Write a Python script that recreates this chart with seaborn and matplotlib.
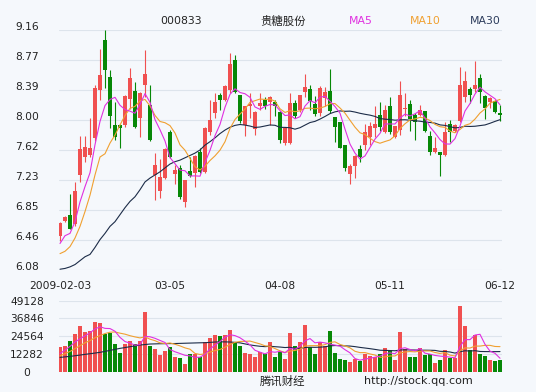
"""Daily candlestick chart for 000833 with MA lines and volume panel."""
import numpy as np
import pandas as pd
import matplotlib
matplotlib.use('Agg')
import matplotlib.pyplot as plt
import seaborn as sns

# price data, one entry per trading day (2009-02-03 .. 2009-06-12)
opens = [6.51, 6.71, 6.79, 6.67, 7.30, 7.53, 7.55, 7.77, 8.39, 9.03,
         8.56, 7.94, 7.94, 7.94, 8.28, 8.38, 8.03, 8.45, 8.20, 7.30,
         7.09, 7.26, 7.85, 7.31, 7.39, 6.95, 7.35, 7.33, 7.59, 7.34,
         7.85, 8.10, 8.32, 8.26, 8.39, 8.78, 8.32, 7.94, 8.18, 7.89,
         8.18, 8.26, 8.23, 8.23, 8.11, 7.71, 7.71, 8.22, 8.13, 8.37,
         8.40, 8.21, 8.10, 8.29, 8.38, 8.04, 7.98, 7.68, 7.31, 7.42,
         7.63, 7.68, 7.79, 7.90, 8.07, 7.85, 8.19, 7.79, 7.88, 8.15,
         8.21, 8.07, 8.07, 8.12, 7.80, 7.59, 7.59, 7.55, 7.95, 7.86,
         7.99, 8.30, 8.40, 8.40, 8.55, 8.31, 8.23, 8.25, 8.10]
closes = [6.68, 6.76, 6.61, 7.09, 7.63, 7.66, 7.65, 8.41, 8.58, 8.65,
          8.05, 7.79, 7.90, 8.31, 8.54, 7.92, 8.35, 8.60, 7.75, 7.43,
          7.27, 7.63, 7.53, 7.36, 7.02, 7.23, 7.29, 7.54, 7.34, 7.90,
          8.01, 8.23, 8.26, 8.44, 8.73, 8.37, 7.99, 8.18, 8.21, 8.11,
          8.22, 8.18, 8.30, 8.18, 7.75, 7.90, 8.22, 8.05, 8.32, 8.43,
          8.25, 8.08, 8.41, 8.37, 8.12, 7.91, 7.65, 7.39, 7.41, 7.54,
          7.53, 7.85, 7.93, 7.95, 7.91, 8.13, 7.85, 7.93, 8.33, 8.16,
          8.02, 7.98, 8.13, 7.86, 7.59, 7.64, 7.55, 7.85, 7.85, 7.94,
          8.45, 8.51, 8.33, 8.46, 8.37, 8.16, 8.29, 8.11, 8.07]
highs = [6.70, 6.77, 7.05, 7.21, 7.80, 7.80, 8.03, 8.45, 8.91, 9.16,
         8.65, 8.24, 7.95, 8.33, 8.67, 8.49, 8.36, 8.90, 8.45, 7.58,
         7.51, 7.65, 7.88, 7.43, 7.43, 7.23, 7.53, 7.55, 7.64, 7.91,
         8.26, 8.35, 8.35, 8.45, 8.86, 8.84, 8.33, 8.18, 8.35, 8.12,
         8.35, 8.30, 8.31, 8.26, 8.12, 7.91, 8.35, 8.26, 8.32, 8.59,
         8.45, 8.31, 8.44, 8.43, 8.66, 8.04, 7.98, 7.69, 7.44, 7.55,
         7.68, 7.96, 7.98, 8.18, 8.24, 8.20, 8.30, 7.93, 8.50, 8.35,
         8.26, 8.09, 8.20, 8.12, 7.86, 7.79, 7.59, 7.98, 8.01, 7.95,
         8.68, 8.63, 8.43, 8.76, 8.60, 8.32, 8.30, 8.26, 8.20]
lows = [6.45, 6.70, 6.60, 6.65, 7.21, 7.47, 7.53, 7.74, 8.26, 8.41,
        7.90, 7.75, 7.65, 7.92, 8.15, 7.90, 7.79, 8.30, 7.74, 6.98,
        7.00, 7.25, 7.52, 7.18, 6.99, 6.89, 7.27, 7.15, 7.33, 7.32,
        7.81, 8.03, 8.13, 8.25, 8.35, 8.35, 7.97, 7.80, 8.03, 7.81,
        8.13, 8.15, 7.94, 8.05, 7.71, 7.68, 7.70, 8.03, 8.11, 8.30,
        8.13, 8.06, 8.05, 8.18, 8.09, 7.72, 7.64, 7.35, 7.19, 7.26,
        7.47, 7.62, 7.68, 7.79, 7.86, 7.84, 7.83, 7.78, 7.81, 8.05,
        7.86, 7.75, 8.06, 7.85, 7.56, 7.58, 7.29, 7.54, 7.72, 7.85,
        7.98, 8.23, 8.22, 8.37, 8.22, 8.02, 8.16, 8.10, 7.99]
volumes = [17300, 17760, 21220, 26060, 31600, 27450, 28370, 34370, 33680, 26060,
           26760, 19140, 13150, 19140, 20990, 19140, 21450, 41520, 17760, 15680,
           11760, 14300, 17070, 10150, 9690, 5540, 12220, 12220, 10380, 20300,
           23530, 25370, 24680, 25370, 29060, 20300, 17990, 12920, 12460, 10380,
           13840, 11990, 20760, 10380, 13380, 9000, 26990, 17990, 20530, 32290,
           16840, 12220, 20530, 17760, 28370, 13150, 8770, 8070, 6920, 8530,
           7610, 12460, 11070, 10380, 12220, 16380, 14990, 8300, 27680, 15450,
           10380, 10380, 16380, 11530, 11990, 6000, 8070, 14990, 9230, 9690,
           45440, 31600, 14990, 25140, 12220, 10840, 8070, 7380, 8070]

# moving-average values before a full window is available (they use earlier history)
ma5_head = [6.42, 6.52, 6.55, 6.70]
ma10_head = [6.29, 6.32, 6.38, 6.49, 6.64, 6.83, 7.04, 7.30, 7.53]
ma30_head = [6.09, 6.10, 6.12, 6.15, 6.20, 6.25, 6.28, 6.37, 6.47, 6.55,
             6.64, 6.70, 6.79, 6.88, 6.96, 7.02, 7.11, 7.21, 7.26, 7.30,
             7.34, 7.39, 7.44, 7.47, 7.49, 7.52, 7.55, 7.58, 7.62]
vma5_head = [12500, 15000, 17500, 20500]
vma10_head = [11000, 12500, 14000, 16000, 18000, 20000, 21500, 23500, 25000]
vma30_head = [9900, 10250, 10600, 11050, 11500, 12000, 12450, 12900, 13400, 14050,
              14750, 15450, 16150, 16700, 17300, 17850, 18450, 18800, 19150, 19250,
              19350, 19400, 19450, 19500, 19600, 19700, 19800, 19900, 20000]

date_ticks = [0, 22, 44, 66, 88]
date_labels = ['2009-02-03', '03-05', '04-08', '05-11', '06-12']
price_ticks = [6.08, 6.465, 6.85, 7.235, 7.62, 8.005, 8.39, 8.775, 9.16]
price_labels = ['6.08', '6.46', '6.85', '7.23', '7.62', '8.00', '8.39', '8.77', '9.16']
vol_ticks = [0, 12282, 24564, 36846, 49128]
vol_labels = ['0', '12282', '24564', '36846', '49128']

BG = '#f5f8fc'
GRID = '#dde4ec'
RED = '#f05050'
GREEN = '#078807'
C_MA5 = '#e030e0'
C_MA10 = '#f0a030'
C_MA30 = '#1c2c48'
TXT = '#222222'


def moving_avg(values, window, head):
    ma = pd.Series(values, dtype=float).rolling(window).mean()
    ma.iloc[:len(head)] = head
    return ma


df = pd.DataFrame({'open': opens, 'close': closes, 'high': highs,
                   'low': lows, 'volume': volumes})
df['idx'] = np.arange(len(df))
df['color'] = np.where(df['close'] >= df['open'], RED, GREEN)
df['ma5'] = moving_avg(closes, 5, ma5_head)
df['ma10'] = moving_avg(closes, 10, ma10_head)
df['ma30'] = moving_avg(closes, 30, ma30_head)
df['vma5'] = moving_avg(volumes, 5, vma5_head)
df['vma10'] = moving_avg(volumes, 10, vma10_head)
df['vma30'] = moving_avg(volumes, 30, vma30_head)

sns.set_style('white')
plt.rcParams['font.family'] = ['DejaVu Sans', 'Noto Sans CJK SC']

W, H = 536, 392
fig = plt.figure(figsize=(W / 100, H / 100), dpi=100, facecolor=BG)
ax_p = fig.add_axes([59 / W, (H - 270) / H, 443 / W, 240 / H])
ax_v = fig.add_axes([59 / W, (H - 371.7) / H, 443 / W, 71 / H])

for ax in (ax_p, ax_v):
    ax.set_facecolor(BG)
    for s in ax.spines.values():
        s.set_visible(False)
    ax.set_xlim(-0.2, 88.4)

# price panel: candles + MA lines
for y in price_ticks:
    ax_p.axhline(y, color=GRID, lw=0.8, zorder=0)
ax_p.vlines(df['idx'], df['low'], df['high'], colors=df['color'], lw=0.8, zorder=2)
body = (df['close'] - df['open']).abs().clip(lower=0.012)
ax_p.bar(df['idx'], body, bottom=df[['open', 'close']].min(axis=1),
         width=0.66, color=df['color'], linewidth=0, zorder=2)
for col, c in [('ma30', C_MA30), ('ma10', C_MA10), ('ma5', C_MA5)]:
    sns.lineplot(data=df, x='idx', y=col, ax=ax_p, color=c, lw=0.8, zorder=3)
ax_p.set_ylim(6.08, 9.16)
ax_p.set_yticks(price_ticks)
ax_p.set_yticklabels(price_labels)
ax_p.set_xticks(date_ticks)
ax_p.set_xticklabels(date_labels)
ax_p.tick_params(axis='y', length=0, pad=23, labelsize=7.7, labelcolor=TXT)
ax_p.tick_params(axis='x', length=0, pad=8, labelsize=7.7, labelcolor=TXT)
for lab in ax_p.get_yticklabels():
    lab.set_ha('center')
    lab.set_va('baseline')
ax_p.set_xlabel('')
ax_p.set_ylabel('')

# volume panel
for y in vol_ticks:
    ax_v.axhline(y, color=GRID, lw=0.8, zorder=0)
ax_v.bar(df['idx'], df['volume'], width=0.8, color=df['color'], linewidth=0, zorder=2)
for col, c in [('vma30', C_MA30), ('vma10', C_MA10), ('vma5', C_MA5)]:
    sns.lineplot(data=df, x='idx', y=col, ax=ax_v, color=c, lw=0.8, zorder=3)
ax_v.set_ylim(0, 49128)
ax_v.set_yticks(vol_ticks)
ax_v.set_yticklabels(vol_labels)
ax_v.set_xticks([])
ax_v.tick_params(axis='y', length=0, pad=23, labelsize=7.7, labelcolor=TXT)
for lab in ax_v.get_yticklabels():
    lab.set_ha('center')
ax_v.set_xlabel('')
ax_v.set_ylabel('')

# header and footer texts
fig.text(181 / W, 1 - 21 / H, '000833', ha='center', va='center', fontsize=7.8, color=TXT)
fig.text(283 / W, 1 - 21 / H, '贵糖股份', ha='center', va='center', fontsize=8.2, color=TXT)
fig.text(361 / W, 1 - 21 / H, 'MA5', ha='center', va='center', fontsize=7.8, color=C_MA5)
fig.text(425 / W, 1 - 21 / H, 'MA10', ha='center', va='center', fontsize=7.8, color=C_MA10)
fig.text(485 / W, 1 - 21 / H, 'MA30', ha='center', va='center', fontsize=7.8, color='#2c3c5c')
fig.text(283 / W, 1 - 381 / H, '腾讯财经', ha='center', va='center', fontsize=8.2, color=TXT)
fig.text(418 / W, 1 - 381 / H, 'http://stock.qq.com', ha='center', va='center', fontsize=8, color=TXT)

fig.savefig('out.png', dpi=100, facecolor=BG)
